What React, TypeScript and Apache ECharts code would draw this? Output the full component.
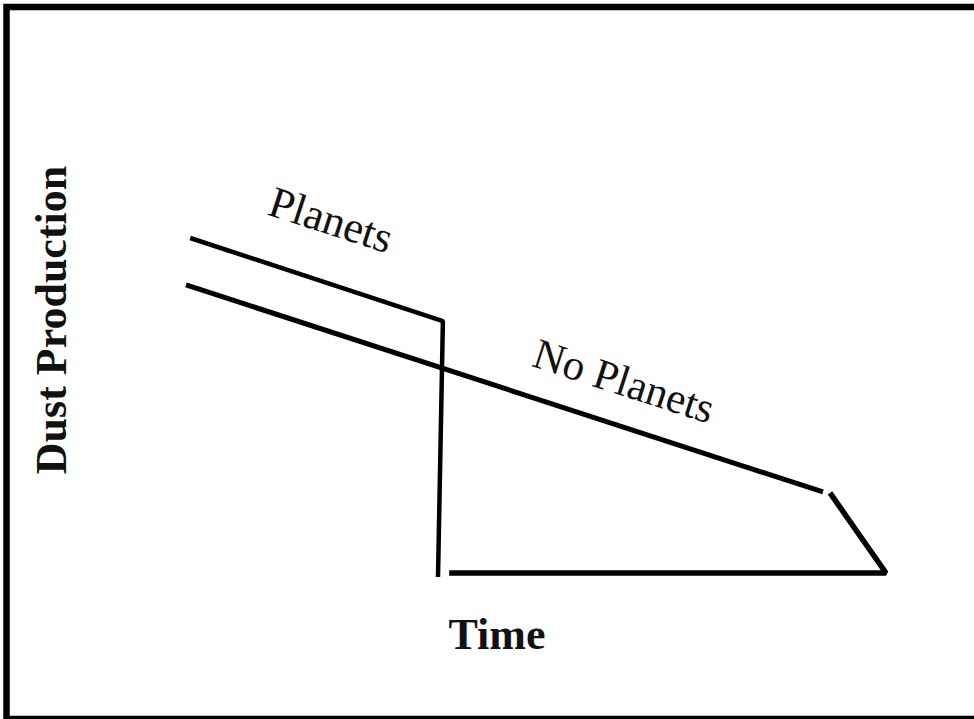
import React, { useEffect, useRef } from "react";
import * as echarts from "echarts";

// Schematic data (time on x, dust production on y; arbitrary units)
const planetsTime = [0.06, 3.67, 3.6];
const planetsDust = [10, 7.52, -0.12];
const noPlanetsTime = [0, 9.1];
const noPlanetsDust = [8.6, 2.42];
const endTime = [9.2, 10, 3.76];
const endDust = [2.39, 0, 0];

const xLabel = "Time";
const yLabel = "Dust Production";
const planetsLabel = "Planets";
const noPlanetsLabel = "No Planets";

const zip = (xs: number[], ys: number[]) => xs.map((x, i) => [x, ys[i]]);

export default function App() {
  const ref = useRef<HTMLDivElement>(null);
  useEffect(() => {
    if (!ref.current) return;
    const chart = echarts.init(ref.current, null, { renderer: "svg" });
    const serif = "'Liberation Serif', 'Times New Roman', serif";
    const lineBase = {
      type: "line" as const,
      symbol: "none",
      clip: false,
      silent: true,
    };
    chart.setOption({
      animation: false,
      backgroundColor: "#ffffff",
      grid: { left: 186, right: 88, top: 238, bottom: 146 },
      xAxis: { type: "value", min: 0, max: 10, show: false },
      yAxis: { type: "value", min: 0, max: 10, show: false },
      series: [
        {
          ...lineBase,
          name: planetsLabel,
          data: zip(planetsTime, planetsDust),
          lineStyle: { color: "#000", width: 4.5 },
        },
        {
          ...lineBase,
          name: noPlanetsLabel,
          data: zip(noPlanetsTime, noPlanetsDust),
          lineStyle: { color: "#000", width: 5 },
        },
        {
          ...lineBase,
          name: noPlanetsLabel + " end",
          data: zip(endTime, endDust),
          lineStyle: { color: "#000", width: 5.5 },
        },
      ],
      graphic: [
        {
          type: "rect",
          shape: { x: 6.5, y: 7, width: 1000, height: 712 },
          style: { fill: "none", stroke: "#000", lineWidth: 6.5 },
          silent: true,
        },
        {
          type: "text",
          x: 331,
          y: 220,
          rotation: (-18 * Math.PI) / 180,
          style: {
            text: planetsLabel,
            font: `44px ${serif}`,
            fill: "#111",
            align: "center",
            verticalAlign: "middle",
          },
        },
        {
          type: "text",
          x: 624,
          y: 381,
          rotation: (-18 * Math.PI) / 180,
          style: {
            text: noPlanetsLabel,
            font: `43px ${serif}`,
            fill: "#111",
            align: "center",
            verticalAlign: "middle",
          },
        },
        {
          type: "text",
          x: 497,
          y: 634,
          style: {
            text: xLabel,
            font: `bold 44px ${serif}`,
            fill: "#111",
            align: "center",
            verticalAlign: "middle",
          },
        },
        {
          type: "text",
          x: 51,
          y: 320,
          rotation: Math.PI / 2,
          style: {
            text: yLabel,
            font: `bold 44px ${serif}`,
            fill: "#111",
            align: "center",
            verticalAlign: "middle",
          },
        },
      ],
    });
    return () => chart.dispose();
  }, []);
  return (
    <div
      ref={ref}
      style={{ position: "fixed", left: 0, top: 0, width: 974, height: 719, background: "#fff" }}
    />
  );
}
